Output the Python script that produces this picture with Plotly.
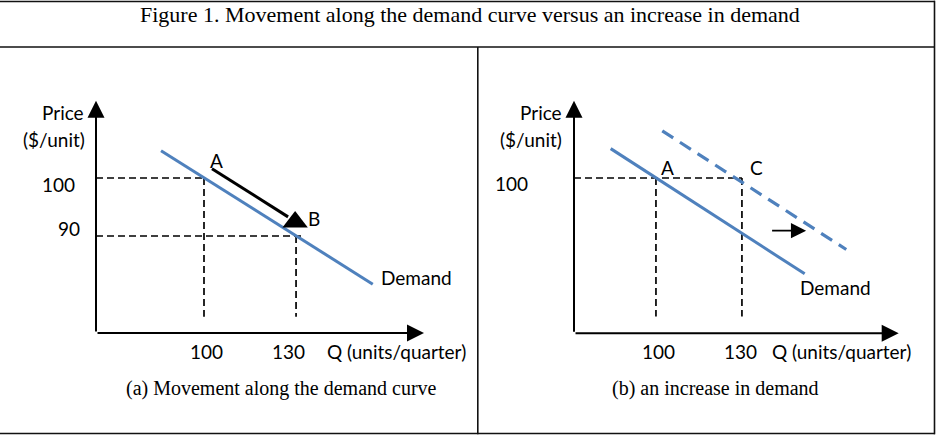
import plotly.graph_objects as go

W, H = 938, 437

# ---------------- data ----------------
title = "Figure 1. Movement along the demand curve versus an increase in demand"
captions = ["(a) Movement along the demand curve", "(b) an increase in demand"]
axis_q_title = "Q (units/quarter)"
axis_p_title = ["Price", "($/unit)"]
curve_label = "Demand"

q_ticks = [100, 130]
q_tick_labels = ["100", "130"]
p_ticks_a = [100, 90]
p_tick_labels_a = ["100", "90"]
p_ticks_b = [100]
p_tick_labels_b = ["100"]

# panel (a)
demand_a_q = [86.0, 155.0]
demand_a_p = [104.7, 81.7]
point_A = (100, 100)
point_B = (130, 90)
move_arrow_q = [102.6, 127.4]
move_arrow_p = [101.6, 93.3]
move_head = (129.7, 92.4)
guide_end_a = 76.1       # lower end of vertical guides
guide_end_a_h90 = 132.6  # right end of the P=90 guide

# panel (b)
demand_b_q = [84.2, 151.9]
demand_b_p = [105.3, 82.7]
demand_b2_q = [102.2, 166.4]
demand_b2_p = [108.5, 87.1]
point_A2 = (100, 100)
point_C = (130, 100)
shift_arrow_q = [140.0, 152.4]
shift_arrow_p = [90.5, 90.5]
guide_end_b = 75.0

# ---------------- layout helpers ----------------
def fx(px):
    return px / W

def fy(py):
    return 1 - py / H

xa_range = [64.8, 171.7]
ya_range = [73.28, 113.33]
xb_range = [71.4, 184.7]
yb_range = [71.97, 113.95]

BLUE = "#4F81BD"
LAB = dict(family="Lato, Carlito, 'Liberation Sans', sans-serif", size=19, color="black")
SERIF = "'Liberation Serif', 'Times New Roman', serif"

fig = go.Figure()

# demand curves
fig.add_trace(go.Scatter(x=demand_a_q, y=demand_a_p, mode="lines",
                         line=dict(color=BLUE, width=3), xaxis="x", yaxis="y"))
fig.add_trace(go.Scatter(x=demand_b_q, y=demand_b_p, mode="lines",
                         line=dict(color=BLUE, width=3), xaxis="x2", yaxis="y2"))
fig.add_trace(go.Scatter(x=demand_b2_q, y=demand_b2_p, mode="lines",
                         line=dict(color=BLUE, width=3.2, dash="13px,8px"),
                         xaxis="x2", yaxis="y2"))

# movement arrow (panel a)
fig.add_trace(go.Scatter(x=move_arrow_q, y=move_arrow_p, mode="lines",
                         line=dict(color="black", width=3), xaxis="x", yaxis="y"))
fig.add_trace(go.Scatter(x=[move_head[0]], y=[move_head[1]], mode="markers",
                         marker=dict(symbol="triangle-up", size=22, color="black"),
                         xaxis="x", yaxis="y"))

shapes = []
DASH = dict(color="black", width=1.7, dash="7px,4px")

def gline(xref, yref, x0, y0, x1, y1):
    shapes.append(dict(type="line", xref=xref, yref=yref, x0=x0, y0=y0, x1=x1, y1=y1,
                       line=DASH, layer="below"))

# guides panel (a)
gline("x", "y", xa_range[0], point_A[1], point_A[0], point_A[1])
gline("x", "y", point_A[0], point_A[1], point_A[0], guide_end_a)
gline("x", "y", xa_range[0], point_B[1], guide_end_a_h90, point_B[1])
gline("x", "y", point_B[0], point_B[1], point_B[0], guide_end_a)
# guides panel (b)
gline("x2", "y2", xb_range[0], point_A2[1], point_C[0], point_C[1])
gline("x2", "y2", point_A2[0], point_A2[1], point_A2[0], guide_end_b)
gline("x2", "y2", point_C[0], point_C[1], point_C[0], guide_end_b)

# table borders (paper)
BORDER = dict(color="#111111", width=1.6)
def pline(x0, y0, x1, y1):
    shapes.append(dict(type="line", xref="paper", yref="paper",
                       x0=fx(x0), y0=fy(y0), x1=fx(x1), y1=fy(y1), line=BORDER))
pline(0, 1.5, 935, 1.5)
pline(0, 47, 935, 47)
pline(0, 433.5, 935, 433.5)
pline(934.5, 0.8, 934.5, 434.3)
pline(477.8, 47, 477.8, 434.3)

ann = []

def axis_arrows(xr, yr, xref, yref):
    ann.append(dict(x=xr[1], y=yr[0], ax=xr[0], ay=yr[0], xref=xref, yref=yref,
                    axref=xref, ayref=yref, text="", showarrow=True,
                    arrowhead=2, arrowsize=1.7, arrowwidth=2, arrowcolor="black", standoff=0))
    ann.append(dict(x=xr[0], y=yr[1], ax=xr[0], ay=yr[0], xref=xref, yref=yref,
                    axref=xref, ayref=yref, text="", showarrow=True,
                    arrowhead=2, arrowsize=1.7, arrowwidth=2, arrowcolor="black", standoff=0))

axis_arrows(xa_range, ya_range, "x", "y")
axis_arrows(xb_range, yb_range, "x2", "y2")

# shift arrow (panel b)
ann.append(dict(x=shift_arrow_q[1], y=shift_arrow_p[1], ax=shift_arrow_q[0], ay=shift_arrow_p[0],
                xref="x2", yref="y2", axref="x2", ayref="y2", text="", showarrow=True,
                arrowhead=2, arrowsize=1.9, arrowwidth=1.6, arrowcolor="black", standoff=0))

def txt(text, x, y, xref="paper", yref="paper", xshift=0, yshift=0, xanchor="center",
        font=LAB):
    ann.append(dict(text=text, x=x, y=y, xref=xref, yref=yref, xshift=xshift, yshift=yshift,
                    xanchor=xanchor, yanchor="middle", showarrow=False, font=font))

# tick labels panel (a)
txt(q_tick_labels[0], q_ticks[0], ya_range[0], "x", "y", xshift=2, yshift=-18)
txt(q_tick_labels[1], q_ticks[1], ya_range[0], "x", "y", xshift=-8, yshift=-18)
txt(p_tick_labels_a[0], xa_range[0], p_ticks_a[0], "x", "y", xshift=-19, yshift=-6, xanchor="right")
txt(p_tick_labels_a[1], xa_range[0], p_ticks_a[1], "x", "y", xshift=-14, yshift=8, xanchor="right")
# tick labels panel (b)
txt(q_tick_labels[0], q_ticks[0], yb_range[0], "x2", "y2", xshift=3, yshift=-18)
txt(q_tick_labels[1], q_ticks[1], yb_range[0], "x2", "y2", xshift=-1.5, yshift=-18)
txt(p_tick_labels_b[0], xb_range[0], p_ticks_b[0], "x2", "y2", xshift=-44, yshift=-6, xanchor="right")

# axis titles
txt(axis_q_title, fx(396), fy(351))
txt(axis_q_title, fx(841.5), fy(351))
txt(axis_p_title[0], fx(63), fy(112))
txt(axis_p_title[1], fx(53.5), fy(139))
txt(axis_p_title[0], fx(541), fy(112))
txt(axis_p_title[1], fx(531), fy(139))

# point labels
txt("A", point_A[0], point_A[1], "x", "y", xshift=12, yshift=18)
txt("B", point_B[0], point_B[1], "x", "y", xshift=18, yshift=18)
txt("A", point_A2[0], point_A2[1], "x2", "y2", xshift=12, yshift=10)
txt("C", point_C[0], point_C[1], "x2", "y2", xshift=15, yshift=10)

# curve labels
txt(curve_label, fx(416), fy(277))
txt(curve_label, fx(835), fy(287.5))

# captions and title
txt(captions[0], fx(281.7), fy(388), font=dict(family=SERIF, size=20, color="black"))
txt(captions[1], fx(715.7), fy(388), font=dict(family=SERIF, size=20, color="black"))
txt(title, fx(470), fy(14.5), font=dict(family=SERIF, size=22, color="black"))

AX = dict(visible=False, showgrid=False, zeroline=False, fixedrange=True)
fig.update_layout(
    width=W, height=H,
    margin=dict(l=0, r=0, t=0, b=0),
    paper_bgcolor="white", plot_bgcolor="white",
    showlegend=False,
    xaxis=dict(AX, range=xa_range, domain=[fx(96), fx(424)]),
    yaxis=dict(AX, range=ya_range, domain=[fy(333), fy(100.7)]),
    xaxis2=dict(AX, range=xb_range, domain=[fx(574), fx(898.7)], anchor="y2"),
    yaxis2=dict(AX, range=yb_range, domain=[fy(333.3), fy(100.7)], anchor="x2"),
    shapes=shapes,
    annotations=ann,
)

fig.write_html("out.html", config={"displayModeBar": False},
               post_script="document.body.style.margin='0';document.body.style.overflow='hidden';")
